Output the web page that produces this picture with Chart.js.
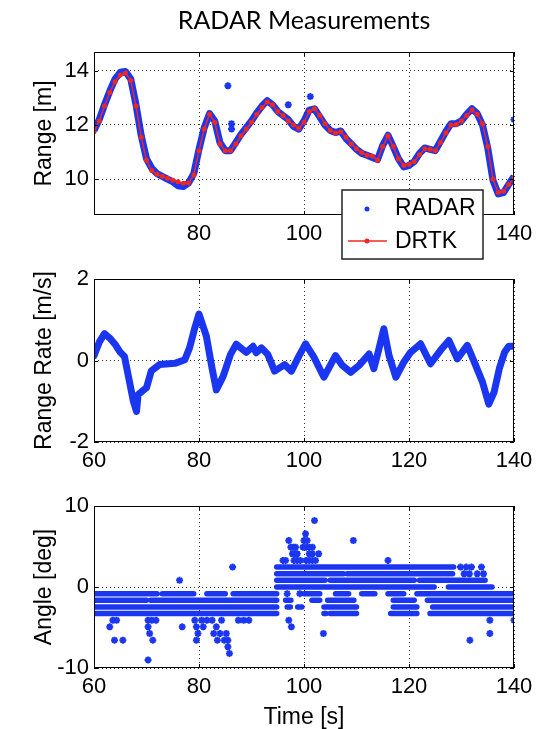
<!DOCTYPE html>
<html>
<head>
<meta charset="utf-8">
<script src="https://cdn.jsdelivr.net/npm/chart.js@4"></script>
<style>
  html, body { margin: 0; padding: 0; background: #fff; }
  #wrap { position: relative; width: 546px; height: 729px; }
  canvas { position: absolute; left: 0; }
</style>
</head>
<body>
<div id="wrap">
  <canvas id="c-range" width="546" height="264" style="top:0"></canvas>
  <canvas id="c-rate" width="546" height="212" style="top:258px"></canvas>
  <canvas id="c-angle" width="546" height="259" style="top:470px"></canvas>
</div>
<script>
const BLUE = "#1a36f0";
const RED = "#f0281e";
const SANS = "'Liberation Sans', Arial, sans-serif";
const TICK_FONT = { family: SANS, size: 22 };
const LABEL_FONT = { family: SANS, size: 23, lineHeight: 1 };

const X_TICKS = [60, 80, 100, 120, 140];
const X_LABELS = ["60", "80", "100", "120", "140"];
const X_LABELS_TOP = ["", "80", "100", "120", "140"];
const RANGE_TICKS = [10, 12, 14];
const RATE_TICKS = [-2, 0, 2];
const ANGLE_TICKS = [-10, 0, 10];
const LEGEND_LABELS = ["RADAR", "DRTK"];

// range plot, sampled once a second
const RANGE_T = [60, 61, 62, 63, 64, 65, 66, 67, 68, 69, 70, 71, 72, 73, 74, 75, 76, 77, 78, 79,
  80, 81, 82, 83, 84, 85, 86, 87, 88, 89, 90, 91, 92, 93, 94, 95, 96, 97, 98, 99,
  100, 101, 102, 103, 104, 105, 106, 107, 108, 109, 110, 111, 112, 113, 114, 115, 116, 117, 118, 119,
  120, 121, 122, 123, 124, 125, 126, 127, 128, 129, 130, 131, 132, 133, 134, 135, 136, 137, 138, 139, 140];
const DRTK_RANGE = [11.75, 12.15, 12.7, 13.2, 13.6, 13.85, 13.92, 13.65, 12.7, 11.55, 10.7, 10.32, 10.18, 10.1, 10.03, 9.96, 9.9, 9.84, 9.85, 10.15,
  11.05, 11.85, 12.4, 12.1, 11.3, 11.05, 11.05, 11.3, 11.6, 11.85, 12.1, 12.4, 12.65, 12.85, 12.75, 12.5, 12.35, 12.15, 12.0, 11.88,
  12.1, 12.5, 12.6, 12.35, 12.05, 11.8, 11.7, 11.75, 11.55, 11.3, 11.12, 10.98, 10.88, 10.85, 10.7, 11.2, 11.6, 11.2, 10.75, 10.5,
  10.55, 10.65, 10.9, 11.12, 11.1, 11.05, 11.35, 11.7, 12.0, 12.02, 12.15, 12.35, 12.55, 12.4, 12.05, 11.2, 10.0, 9.5, 9.55, 9.8, 10.05];
const RADAR_RANGE = [11.8, 12.2, 12.75, 13.25, 13.7, 13.95, 13.98, 13.7, 12.75, 11.6, 10.75, 10.4, 10.2, 10.1, 10.0, 9.9, 9.75, 9.72, 9.85, 10.2,
  11.1, 11.9, 12.42, 12.15, 11.35, 11.05, 11.05, 11.35, 11.65, 11.9, 12.15, 12.45, 12.7, 12.9, 12.75, 12.5, 12.35, 12.2, 11.95, 11.85,
  12.15, 12.55, 12.6, 12.3, 12.0, 11.8, 11.72, 11.78, 11.5, 11.3, 11.1, 10.95, 10.88, 10.8, 10.72, 11.25, 11.62, 11.2, 10.75, 10.45,
  10.5, 10.65, 10.95, 11.15, 11.1, 11.05, 11.4, 11.75, 12.05, 12.05, 12.15, 12.4, 12.6, 12.42, 12.0, 11.15, 9.95, 9.45, 9.5, 9.8, 10.1];
const RADAR_OUT_T = [85.5, 86.2, 86.2, 97.0, 101.2, 140];
const RADAR_OUT_V = [13.45, 12.05, 11.85, 12.75, 13.05, 12.2];

// range rate
const RATE_T = [60, 61, 62, 63, 64, 65, 65.8, 66.8, 67.5, 68.1, 68.4, 69.2, 70, 70.9, 72.5, 75.4, 77.3, 78.2, 79.2, 80,
  81.4, 82.5, 83.3, 84.6, 86, 87.1, 89, 90.3, 90.9, 91.9, 93.1, 94.4, 96.3, 97.6, 99, 100.3, 101.9, 103.8, 106, 107.3,
  108.9, 110.5, 112.4, 113.3, 114.3, 115.2, 116.2, 117.5, 119, 120.3, 122.2, 124.1, 126, 127.6, 129.2, 131.1, 132.7, 134, 135.2, 136.2,
  137.2, 138.2, 139, 140];
const RATE_V = [0.12, 0.45, 0.66, 0.55, 0.4, 0.2, 0.1, -0.55, -1.0, -1.25, -0.84, -0.75, -0.67, -0.26, -0.1, -0.07, 0.02, 0.31, 0.8, 1.14,
  0.6, -0.2, -0.72, -0.39, 0.15, 0.4, 0.2, 0.35, 0.19, 0.31, 0.15, -0.26, -0.1, -0.26, 0.1, 0.41, 0.08, -0.41, 0.12, -0.12,
  -0.29, -0.12, 0.16, -0.2, 0.3, 0.78, 0.12, -0.41, -0.04, 0.2, 0.41, -0.08, 0.25, 0.49, 0.04, 0.37, -0.12, -0.53, -1.07, -0.78,
  -0.2, 0.2, 0.35, 0.35];

// angle: dense rows of markers as runs [from, to] per level, plus loose markers
const ANGLE_LEVELS = [2.46, 1.64, 0.82, 0, -0.82, -1.64, -2.46, -3.28];
const ANGLE_RUNS = [
  [[94.8, 128.5]],
  [[94.8, 107.5], [108.2, 128.3]],
  [[94.8, 104], [105, 121], [122, 134.5]],
  [[94.8, 124.8], [127.5, 135.8]],
  [[60, 72], [73, 79], [81.5, 85], [86.5, 94.8], [100, 103], [106, 108.5], [111, 113.5], [116, 119], [121.5, 140]],
  [[60, 70], [70.8, 94.8], [96.5, 97.5], [101.5, 103], [104.5, 109.5], [117, 121], [123.5, 140]],
  [[60, 94.8], [96.8, 97.4], [98.8, 99.6], [103.8, 110], [117, 121.5], [124.5, 140]],
  [[60, 94.8], [103.8, 104.2], [105, 110], [116.5, 121.5], [124, 140]]
];
const ANGLE_PTS_T = [86.4, 76.3, 96.0, 96.5, 98.1, 98.7, 99.3, 100.4, 101.0, 101.6, 102.2, 116.0,
  97.8, 98.3, 98.7, 101.0, 101.6, 102.8, 97.5, 98.0, 98.4, 99.8, 100.4, 101.0, 101.6,
  97.1, 100.0, 100.6, 109.4, 100.3, 102.0, 129.8, 130.9, 131.9, 133.8, 130.5, 131.5, 133.0, 134.2,
  63.0, 63.6, 64.3, 63.9, 65.5, 70.3, 71.0, 71.8, 70.3, 70.6, 71.2, 70.3, 76.8, 79.2, 79.5, 79.8, 79.5,
  80.5, 80.8, 81.5, 82.5, 82.8, 83.3, 83.5, 84.0, 84.3, 84.8, 85.2, 85.5, 85.5, 85.8, 87.5, 88.5, 89.5,
  96.8, 97.1, 97.6, 99.2, 103.7, 131.6, 135.4, 135.4, 140];
const ANGLE_PTS_DEG = [2.46, 0.82, 3.28, 3.28, 3.28, 3.28, 3.28, 3.28, 3.28, 3.28, 3.28, 3.28,
  4.1, 4.1, 4.1, 4.1, 4.1, 4.1, 4.92, 4.92, 4.92, 4.92, 4.92, 4.92, 4.92,
  5.74, 5.74, 5.74, 5.74, 6.56, 8.2, 2.46, 2.46, 2.46, 2.46, 1.64, 1.64, 1.64, 1.64,
  -4.92, -4.1, -4.1, -6.56, -6.56, -4.1, -4.1, -4.1, -4.92, -5.74, -6.56, -9.0, -4.92, -4.1, -4.92, -5.74, -6.56,
  -4.1, -4.92, -4.1, -4.1, -5.74, -4.92, -6.56, -5.74, -4.1, -6.56, -5.74, -6.56, -7.38, -8.2, -4.1, -4.1, -4.1,
  -0.82, -4.1, -4.92, -0.82, -5.74, -6.56, -4.1, -5.74, -4.1];

function pairs(xs, ys) {
  return xs.map((x, i) => ({ x, y: ys[i] }));
}

function runsToData(levels, runs) {
  const out = [];
  levels.forEach((lv, i) => runs[i].forEach(([a, b]) => {
    out.push({ x: a, y: lv }, { x: b, y: lv }, { x: b, y: null });
  }));
  return out;
}

const framePlugin = {
  id: "frame",
  afterDraw(chart) {
    const { ctx, chartArea: a, scales } = chart;
    ctx.save();
    ctx.strokeStyle = "#000";
    ctx.lineWidth = 1;
    ctx.setLineDash([]);
    ctx.beginPath();
    scales.x.ticks.forEach(t => {
      const px = Math.round(scales.x.getPixelForValue(t.value)) + 0.5;
      ctx.moveTo(px, a.bottom); ctx.lineTo(px, a.bottom - 4);
      ctx.moveTo(px, a.top); ctx.lineTo(px, a.top + 4);
    });
    scales.y.ticks.forEach(t => {
      const py = Math.round(scales.y.getPixelForValue(t.value)) + 0.5;
      ctx.moveTo(a.left, py); ctx.lineTo(a.left + 4, py);
      ctx.moveTo(a.right, py); ctx.lineTo(a.right - 4, py);
    });
    ctx.stroke();
    ctx.strokeRect(Math.round(a.left) + 0.5, Math.round(a.top) + 0.5, Math.round(a.width) - 1, Math.round(a.height) - 1);
    ctx.restore();
  }
};

const boxLegendPlugin = {
  id: "boxLegend",
  afterDraw(chart) {
    const { ctx, chartArea: a } = chart;
    const x0 = a.right - 172, y0 = a.bottom - 25, w = 141, h = 69;
    ctx.save();
    ctx.fillStyle = "#fff";
    ctx.fillRect(x0, y0, w, h);
    ctx.strokeStyle = "#222";
    ctx.lineWidth = 1.5;
    ctx.strokeRect(x0, y0, w, h);
    ctx.fillStyle = BLUE;
    ctx.beginPath(); ctx.arc(x0 + 25, y0 + 19, 2.5, 0, Math.PI * 2); ctx.fill();
    ctx.strokeStyle = RED;
    ctx.lineWidth = 1.5;
    ctx.beginPath(); ctx.moveTo(x0 + 6, y0 + 51); ctx.lineTo(x0 + 45, y0 + 51); ctx.stroke();
    ctx.fillStyle = RED;
    ctx.beginPath(); ctx.arc(x0 + 25, y0 + 51, 2.5, 0, Math.PI * 2); ctx.fill();
    ctx.fillStyle = "#000";
    ctx.font = "23px " + SANS;
    ctx.textBaseline = "middle";
    ctx.fillText(LEGEND_LABELS[0], x0 + 53, y0 + 19);
    ctx.fillText(LEGEND_LABELS[1], x0 + 53, y0 + 52);
    ctx.restore();
  }
};

function xScale(labels, height, title) {
  return {
    type: "linear", min: 60, max: 140,
    afterBuildTicks: s => { s.ticks = X_TICKS.map(v => ({ value: v })); },
    afterFit: s => { s.height = height; },
    ticks: { font: TICK_FONT, color: "#000", padding: 6, maxRotation: 0, autoSkip: false, callback: (v, i) => labels[i] },
    grid: { color: "#333", lineWidth: 1, drawTicks: false },
    border: { display: false, dash: [1, 3] },
    title: { display: !!title, text: title || "", font: LABEL_FONT, color: "#000", padding: { top: 0, bottom: 0 } }
  };
}

function yScale(min, max, ticks, title) {
  return {
    type: "linear", min, max,
    afterBuildTicks: s => { s.ticks = ticks.map(v => ({ value: v })); },
    afterFit: s => { s.width = 94; },
    ticks: { font: TICK_FONT, color: "#000", padding: 5, callback: v => String(v) },
    grid: { color: "#333", lineWidth: 1, drawTicks: false },
    border: { display: false, dash: [1, 3] },
    title: { display: true, text: title, font: LABEL_FONT, color: "#000", padding: { top: 33, bottom: 0 } }
  };
}

function baseOptions(padTop, xs, ys, extraPlugins) {
  return {
    responsive: false,
    animation: false,
    events: [],
    layout: { padding: { left: 0, right: 32, top: padTop, bottom: 0 } },
    scales: { x: xs, y: ys },
    plugins: Object.assign({ legend: { display: false }, tooltip: { enabled: false } }, extraPlugins || {})
  };
}

new Chart(document.getElementById("c-range"), {
  type: "scatter",
  data: {
    datasets: [
      { label: "DRTK", data: pairs(RANGE_T, DRTK_RANGE), showLine: true, borderColor: RED, borderWidth: 1.5,
        backgroundColor: RED, pointRadius: 2.5, pointBorderWidth: 0, order: 0 },
      { label: "RADAR", data: pairs(RANGE_T, RADAR_RANGE), showLine: true, borderColor: BLUE, borderWidth: 7,
        borderJoinStyle: "round", pointRadius: 0, order: 1 },
      { label: "RADAR outliers", data: pairs(RADAR_OUT_T, RADAR_OUT_V), pointStyle: "star", pointRadius: 3.5,
        borderColor: BLUE, backgroundColor: BLUE, pointBorderWidth: 2, order: 2 }
    ]
  },
  options: baseOptions(0, xScale(X_LABELS_TOP, 49), yScale(8.67, 14.7, RANGE_TICKS, "Range [m]"), {
    title: { display: true, text: "RADAR Measurements", fullSize: false, color: "#000",
      font: { family: "Lato, 'Open Sans', sans-serif", size: 25, weight: "normal", lineHeight: 1.2 }, padding: { top: 6, bottom: 16 } }
  }),
  plugins: [framePlugin, boxLegendPlugin]
});

new Chart(document.getElementById("c-rate"), {
  type: "scatter",
  data: {
    datasets: [
      { label: "RADAR", data: pairs(RATE_T, RATE_V), showLine: true, borderColor: BLUE, borderWidth: 7,
        borderJoinStyle: "round", borderCapStyle: "round", pointRadius: 0 }
    ]
  },
  options: baseOptions(21, xScale(X_LABELS, 28), yScale(-2, 2, RATE_TICKS, "Range Rate [m/s]")),
  plugins: [framePlugin]
});

new Chart(document.getElementById("c-angle"), {
  type: "scatter",
  data: {
    datasets: [
      { label: "RADAR rows", data: runsToData(ANGLE_LEVELS, ANGLE_RUNS), showLine: true, spanGaps: false,
        borderColor: BLUE, borderWidth: 5.5, borderCapStyle: "round", pointRadius: 0 },
      { label: "RADAR", data: pairs(ANGLE_PTS_T, ANGLE_PTS_DEG), pointStyle: "star", pointRadius: 3.5,
        borderColor: BLUE, backgroundColor: BLUE, pointBorderWidth: 2 }
    ]
  },
  options: baseOptions(36, xScale(X_LABELS, 61, "Time [s]"), yScale(-10, 10, ANGLE_TICKS, "Angle [deg]")),
  plugins: [framePlugin]
});
</script>
</body>
</html>
